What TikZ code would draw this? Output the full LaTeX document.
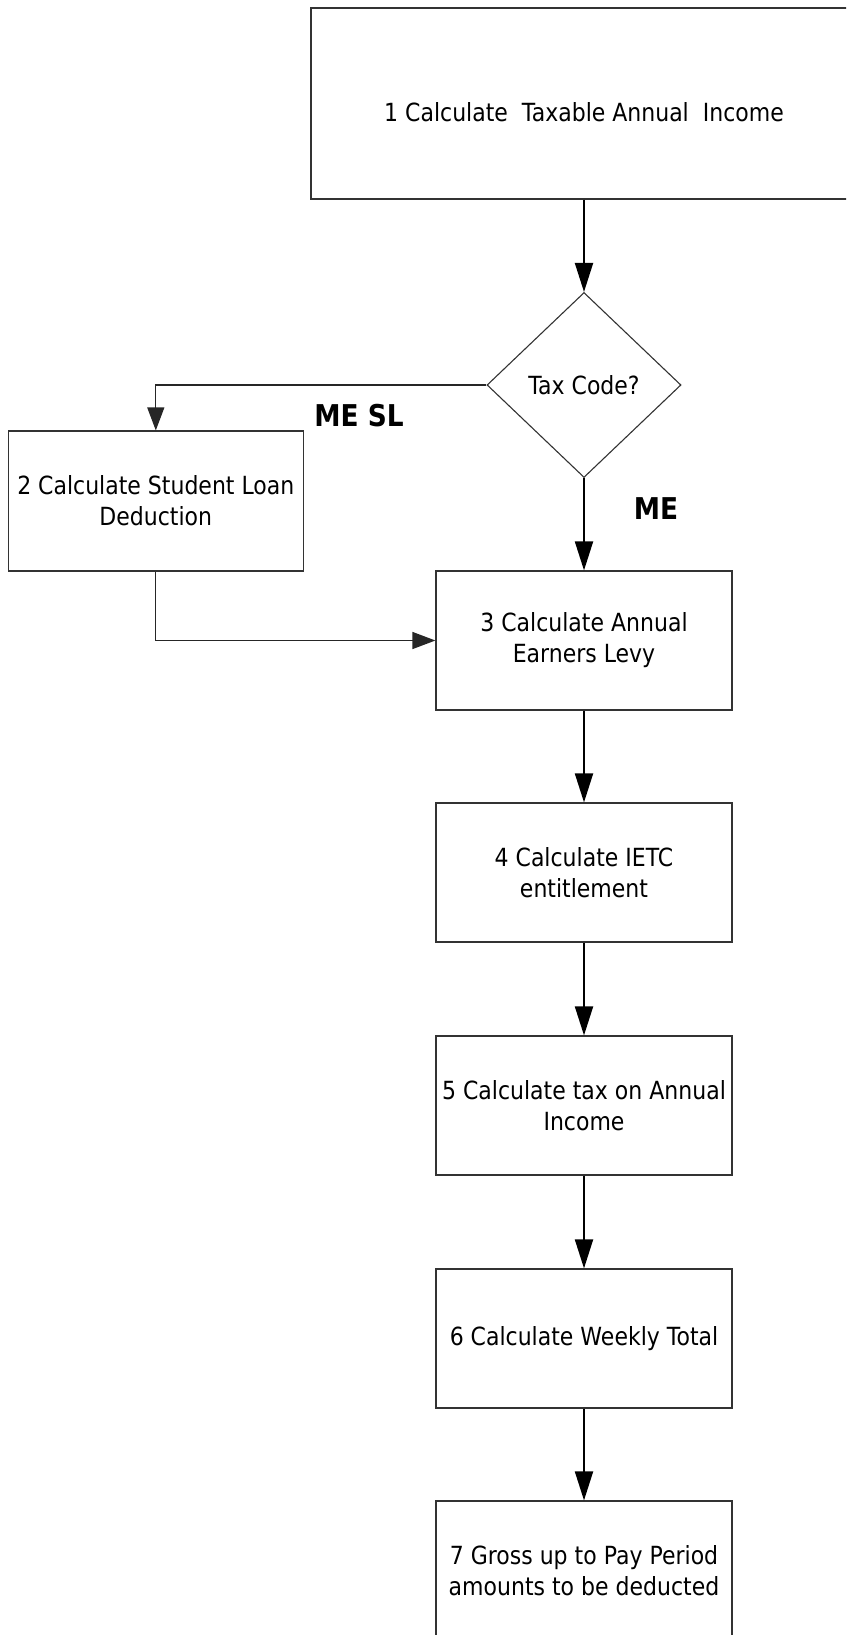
\documentclass[tikz,border=0pt]{standalone}
\usepackage{fontspec}
\setmainfont{DejaVu Sans}[FakeStretch=0.88]
\usetikzlibrary{shapes.geometric,arrows.meta}
\tikzset{
  procbox/.style={draw=black!80, line width=1.2pt, minimum width=296pt, minimum height=139pt,
    inner sep=0pt, align=center, font=\fontsize{25}{31}\selectfont},
  decision/.style={draw=black!80, line width=1.1pt, diamond, minimum width=194pt, minimum height=185pt,
    inner sep=0pt, align=center, font=\fontsize{25}{31}\selectfont},
  mainarrow/.style={line width=2pt, -{Triangle[length=29pt,width=18pt]}},
  sidearrow/.style={line width=1.3pt, draw=black!85, -{Triangle[length=23pt,width=17pt]}},
  branchlabel/.style={font=\fontsize{30}{34}\bfseries\selectfont, inner sep=0pt}
}
\begin{document}
\begin{tikzpicture}[x=1pt,y=-1pt]
\useasboundingbox (0,0) rectangle (846,1635);
\fill[white] (0,0) rectangle (846,1635);
\clip (0,0) rectangle (846,1635);
\node[procbox, minimum width=546pt, minimum height=191pt] (b1) at (584,103.5) {};
\node[font=\fontsize{25}{31}\selectfont, inner sep=0pt] (b1t) at (584,112) {1 Calculate\ \ Taxable Annual\ \ Income};
\node[decision] (dia) at (584,385) {Tax Code?};
\node[procbox, minimum width=295pt, minimum height=140pt] (b2) at (155.8,501) {2 Calculate Student Loan\\Deduction};
\node[procbox] (b3) at (584,640.5) {3 Calculate Annual\\Earners Levy};
\node[procbox] (b4) at (584,872.5) {4 Calculate IETC\\entitlement};
\node[procbox] (b5) at (584,1105.5) {5 Calculate tax on Annual\\Income};
\node[procbox] (b6) at (584,1338.5) {6 Calculate Weekly Total};
\node[procbox] (b7) at (584,1570.5) {7 Gross up to Pay Period\\amounts to be deducted};
\node[branchlabel] (lmesl) at (359,416) {ME SL};
\node[branchlabel] (lme) at (656,509) {ME};
\draw[mainarrow] (b1.south) -- (dia.north);
\draw[sidearrow] (dia.west) -| (b2.north);
\draw[mainarrow] (dia.south) -- (b3.north);
\draw[sidearrow] (b2.south) |- (b3.west);
\draw[mainarrow] (b3.south) -- (b4.north);
\draw[mainarrow] (b4.south) -- (b5.north);
\draw[mainarrow] (b5.south) -- (b6.north);
\draw[mainarrow] (b6.south) -- (b7.north);
\end{tikzpicture}
\end{document}
